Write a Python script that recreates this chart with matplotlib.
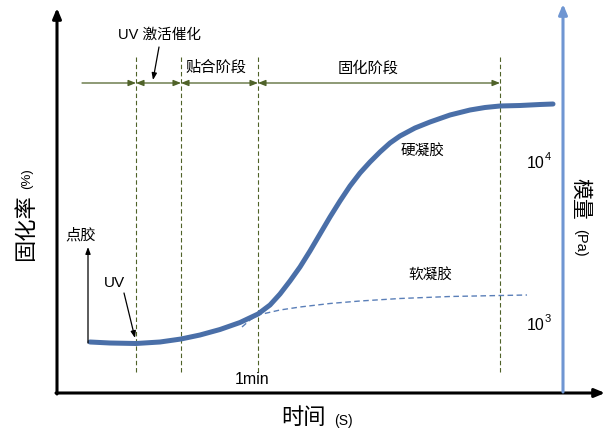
import matplotlib
matplotlib.use("Agg")
import matplotlib.pyplot as plt

# ---- data (schematic, in picture coordinates: x to the right, y downward) ----
hard_gel_x = [90, 110, 136, 160, 181, 200, 220, 240, 258, 270, 280, 290, 300, 310, 320,
              330, 340, 350, 360, 370, 380, 390, 400, 415, 430, 450, 470, 485, 500, 520,
              540, 553]
hard_gel_y = [342, 343, 343.5, 342, 339, 335, 329.5, 322.5, 314, 305, 294, 281, 267, 251,
              234, 217, 201, 186, 173, 162, 152, 143, 136, 128, 122, 115, 110, 107.5, 106,
              105.5, 104.5, 104]
soft_gel_x = [242, 250, 258, 280, 300, 330, 360, 400, 450, 500, 527]
soft_gel_y = [327, 320, 315, 310, 307, 303.5, 301, 298.5, 296.5, 295.5, 295]
stage_x = [136, 181, 258, 500]          # stage boundaries (dashed lines)
stage_labels = ["贴合阶段", "固化阶段"]
curve_labels = ["硬凝胶", "软凝胶"]
modulus_ticks = ["10", "10"]
modulus_exp = ["4", "3"]

OLIVE = "#4f6228"
CURVE = "#4a6fa8"
SOFT = "#5a7fb8"
RAXIS = "#6f96d2"
FONT = ["Liberation Sans", "Noto Sans CJK SC"]

fig = plt.figure(figsize=(6.05, 4.4), dpi=100)
ax = fig.add_axes([0, 0, 1, 1])
ax.set_xlim(0, 605)
ax.set_ylim(440, 0)
ax.axis("off")

# axes arrows
ax.annotate("", xy=(57, 8), xytext=(57, 394),
            arrowprops=dict(arrowstyle="-|>,head_width=0.25,head_length=0.6",
                            color="black", lw=2.2, shrinkA=0, shrinkB=0))
ax.annotate("", xy=(605, 393), xytext=(56, 393),
            arrowprops=dict(arrowstyle="-|>,head_width=0.25,head_length=0.6",
                            color="black", lw=2.2, shrinkA=0, shrinkB=0))
ax.annotate("", xy=(563, 4), xytext=(563, 392),
            arrowprops=dict(arrowstyle="-|>,head_width=0.25,head_length=0.6",
                            color=RAXIS, lw=2.2, shrinkA=0, shrinkB=0))

# dashed stage lines
for x in stage_x:
    ax.plot([x, x], [57, 373], color=OLIVE, lw=0.8, ls=(0, (4, 2.5)))

# horizontal stage arrows
hy = 83
ax.annotate("", xy=(stage_x[0], hy), xytext=(82, hy),
            arrowprops=dict(arrowstyle="-|>,head_width=0.18,head_length=0.45",
                            color=OLIVE, lw=0.9, shrinkA=0, shrinkB=0))
for a, b in zip(stage_x[:-1], stage_x[1:]):
    ax.annotate("", xy=(b, hy), xytext=(a, hy),
                arrowprops=dict(arrowstyle="<|-|>,head_width=0.18,head_length=0.45",
                                color=OLIVE, lw=0.9, shrinkA=0, shrinkB=0))

# curves
ax.plot(soft_gel_x, soft_gel_y, color=SOFT, lw=1.0, ls=(0, (4, 2.5)))
ax.plot(hard_gel_x, hard_gel_y, color=CURVE, lw=3.6, solid_capstyle="round",
        solid_joinstyle="round")

# annotations
ax.text(160, 35, "UV 激活催化", family=FONT, fontsize=10.5, ha="center", va="center")
ax.annotate("", xy=(153, 80), xytext=(159, 47),
            arrowprops=dict(arrowstyle="-|>,head_width=0.15,head_length=0.4",
                            color="black", lw=0.9, shrinkA=0, shrinkB=0))
ax.text(216, 68, stage_labels[0], family=FONT, fontsize=11, ha="center", va="center")
ax.text(368, 68, stage_labels[1], family=FONT, fontsize=11, ha="center", va="center")
ax.text(422, 152, curve_labels[0], family=FONT, fontsize=10.5, ha="center", va="center")
ax.text(430, 276, curve_labels[1], family=FONT, fontsize=10.5, ha="center", va="center")

ax.text(81, 235, "点胶", family=FONT, fontsize=11, ha="center", va="center")
ax.annotate("", xy=(88, 247), xytext=(88, 343),
            arrowprops=dict(arrowstyle="-|>,head_width=0.15,head_length=0.4",
                            color="black", lw=0.9, shrinkA=0, shrinkB=0))
ax.text(114, 283, "UV", family=FONT, fontsize=11, ha="center", va="center")
ax.annotate("", xy=(135, 338), xytext=(124, 293),
            arrowprops=dict(arrowstyle="-|>,head_width=0.15,head_length=0.4",
                            color="black", lw=0.9, shrinkA=0, shrinkB=0))
ax.text(252, 379, "1min", family=FONT, fontsize=11.5, ha="center", va="center")

# modulus ticks
for (ty, base, ex) in zip([163, 325], modulus_ticks, modulus_exp):
    ax.text(544, ty, base, family=FONT, fontsize=11.5, ha="right", va="center")
    ax.text(544.5, ty - 6, ex, family=FONT, fontsize=8, ha="left", va="center")

# axis titles
ax.text(303, 419, "时间", family=FONT, fontsize=16, ha="center", va="center")
ax.text(343, 421, "(S)", family=FONT, fontsize=10, ha="center", va="center")
ax.text(27, 228, "固化率", family=FONT, fontsize=16, ha="center", va="center", rotation=90)
ax.text(27, 179, "(%)", family=FONT, fontsize=9.5, ha="center", va="center", rotation=90)
ax.text(580, 199, "模量", family=FONT, fontsize=15, ha="center", va="center", rotation=-90)
ax.text(580, 243, "(Pa)", family=FONT, fontsize=10.5, ha="center", va="center", rotation=-90)

fig.savefig("out.png", dpi=100)
